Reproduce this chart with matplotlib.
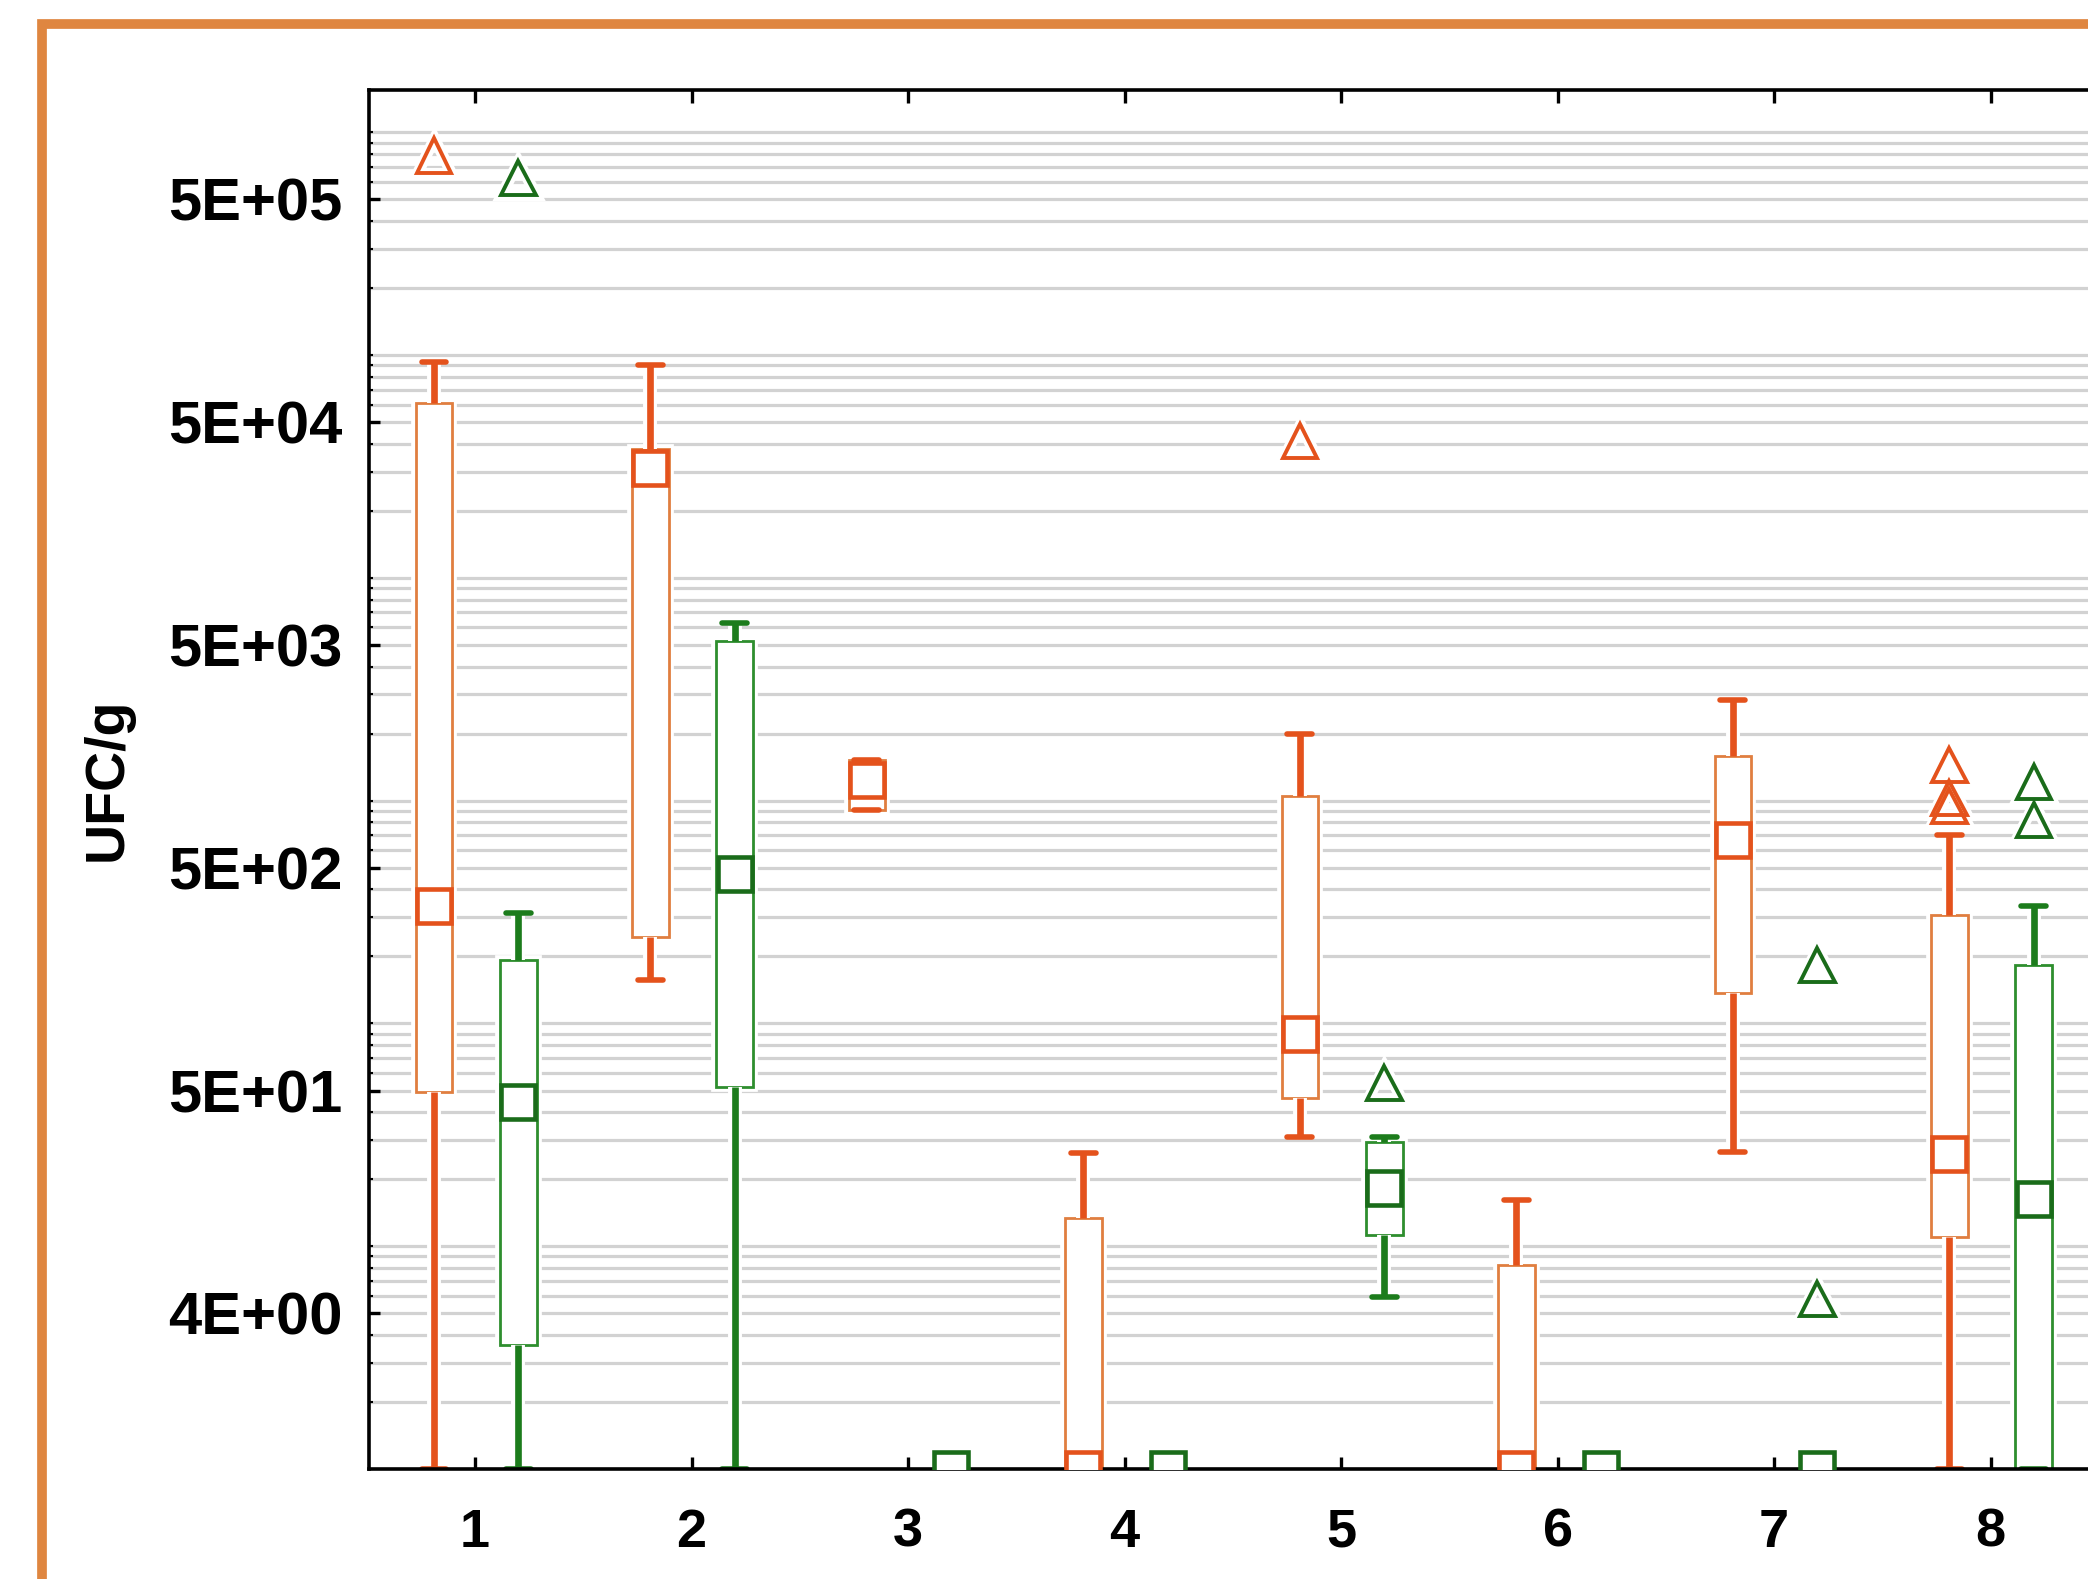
import numpy as np
import matplotlib
matplotlib.use('Agg')
import matplotlib.pyplot as plt
import matplotlib.patheffects as pe
from matplotlib.patches import Rectangle
from matplotlib.ticker import FixedLocator, LogLocator, NullFormatter

plt.rcParams['font.family'] = ['Liberation Sans', 'DejaVu Sans']
plt.rcParams['font.weight'] = 'bold'

groups = [1, 2, 3, 4, 5, 6, 7, 8]
group_labels = ['1', '2', '3', '4', '5', '6', '7', '8']

# orange series (left box of each pair), UFC/g
med_a = [337, 31000, 1240, 1, 90, 1, 667, 26]
q1_a = [49.3, 244, 909, 1, 46.3, 1, 137, 11]
q3_a = [61000, 38000, 1524, 13.4, 1050, 8.2, 1586, 307]
lo_a = [1, 157, 909, 1, 31, 1, 26.5, 1]
hi_a = [93000, 90500, 1524, 26.2, 1995, 16.1, 2833, 702]
out_a = [[790000], [], [], [], [41200], [], [], [1446, 1029, 947]]

# green series (right box of each pair)
med_b = [44.4, 471, 1, 1, 18.3, 1, 1, 16.3]
q1_b = [3.6, 51.9, 1, 1, 11.2, 1, 1, 1]
q3_b = [193, 5200, 1, 1, 29.4, 1, 1, 183]
lo_b = [1, 1, 1, 1, 5.9, 1, 1, 1]
hi_b = [313, 6300, 1, 1, 31, 1, 1, 337]
out_b = [[625000], [], [], [], [54], [], [183, 5.8], [1214, 820]]

ytick_vals = [5, 50, 500, 5000, 50000, 500000]
ytick_labels = ['4E+00', '5E+01', '5E+02', '5E+03', '5E+04', '5E+05']

W, H = 2088, 1579
fig = plt.figure(figsize=(W / 100, H / 100), dpi=100)
ax = fig.add_axes([369 / W, 1 - 1469 / H, 1 - 369 / W, (1469 - 90) / H])


def halo(lw):
    # white margin so the grid lines stop short of the marks
    return [pe.Stroke(linewidth=lw, foreground='white'), pe.Normal()]


def draw_series(pos, med, q1, q3, lo, hi, out, c_line, c_box, c_mark):
    stats = [dict(med=m, q1=a, q3=b, whislo=l, whishi=h, fliers=f)
             for m, a, b, l, h, f in zip(med, q1, q3, lo, hi, out)]
    art = ax.bxp(stats, positions=pos, widths=0.17, capwidths=0.115,
                 patch_artist=True, manage_ticks=False,
                 boxprops=dict(facecolor='white', edgecolor=c_box, linewidth=2),
                 whiskerprops=dict(color=c_line, linewidth=4.8, solid_capstyle='butt'),
                 capprops=dict(color=c_line, linewidth=4, solid_capstyle='round'),
                 flierprops=dict(marker='^', markersize=25, markerfacecolor='none',
                                 markeredgecolor=c_mark, markeredgewidth=2.8))
    for m in art['medians']:
        m.set_visible(False)
    for b in art['boxes']:
        b.set_zorder(2)
        b.set_path_effects(halo(7))
    for w in art['whiskers']:
        w.set_zorder(2.5)
        w.set_path_effects(halo(10))
    for c in art['caps']:
        c.set_zorder(2.5)
    for f in art['fliers']:
        f.set_zorder(2.6)
        f.set_path_effects(halo(8))
    # median shown as a square, Statistica style
    ax.plot(pos, med, ls='none', marker='s', ms=25, mfc='white', mec=c_mark,
            mew=3.3, zorder=3)


pos_a = [g - 0.19 for g in groups]
pos_b = [g + 0.2 for g in groups]
draw_series(pos_a, med_a, q1_a, q3_a, lo_a, hi_a, out_a,
            '#E4521C', '#E07E40', '#E4521C')
draw_series(pos_b, med_b, q1_b, q3_b, lo_b, hi_b, out_b,
            '#1C7C1C', '#2E8E2E', '#1A6C1A')

ax.set_yscale('log')
ax.set_ylim(1, 1.55e6)
ax.yaxis.set_major_locator(FixedLocator(ytick_vals))
ax.set_yticklabels(ytick_labels)
ax.yaxis.set_minor_locator(LogLocator(base=10, subs=np.arange(1, 10), numticks=30))
ax.yaxis.set_minor_formatter(NullFormatter())
ax.set_xlim(0.51, 8.45)
ax.set_xticks(groups)
ax.set_xticklabels(group_labels)

ax.set_axisbelow(True)
ax.yaxis.grid(True, which='both', color='#d2d2d2', linewidth=2.3)

ax.tick_params(axis='x', which='both', direction='in', top=True, bottom=True,
               length=9, width=2.4, pad=28, labelsize=39)
ax.tick_params(axis='y', which='major', direction='in', length=8, width=2.4,
               pad=19, labelsize=43)
ax.tick_params(axis='y', which='minor', direction='in', length=3, width=1.5)
for s in ax.spines.values():
    s.set_linewidth(2.6)
ax.spines['right'].set_visible(False)

ax.set_ylabel('UFC/g', fontsize=40, fontweight='bold', va='center')
ax.yaxis.set_label_coords(-0.152, 0.5)

# orange outer frame, cut off by the right and bottom edges
fig.add_artist(Rectangle((42.5 / W, -0.5), 2, 1 - 24 / H + 0.5,
                         transform=fig.transFigure, fill=False,
                         edgecolor='#DF8640', linewidth=7))

fig.savefig('out.png', dpi=100)
